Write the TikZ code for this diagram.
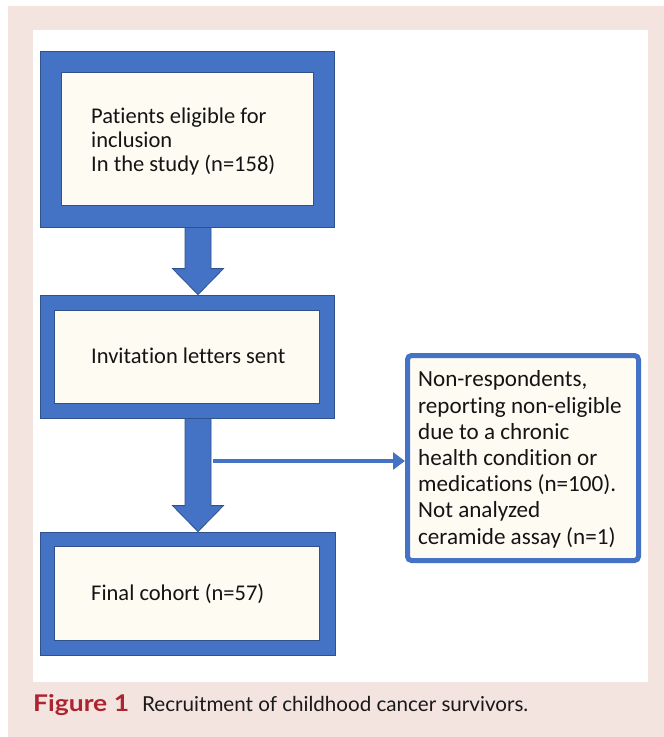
\documentclass[tikz,border=0pt]{standalone}
\usepackage{fontspec}
\setmainfont{Carlito}[Ligatures=NoCommon]
\newfontfamily\capfont{Lato}
\newfontfamily\capfontwide{Lato}[FakeStretch=1.15]
\usetikzlibrary{calc,arrows.meta}
\definecolor{myblue}{HTML}{4472C4}
\definecolor{blueedge}{HTML}{2F528F}
\definecolor{cream}{HTML}{FEFBF3}
\definecolor{pinkbg}{HTML}{F4E4DF}
\definecolor{capred}{HTML}{AC2430}
\tikzset{
  outerbox/.style={rectangle, fill=myblue, draw=blueedge, line width=0.8pt, inner sep=0pt},
  innerbox/.style={fill=cream, draw=blueedge, line width=0.8pt},
  sidebox/.style={rectangle, rounded corners=4pt, fill=cream, draw=myblue, line width=5pt, inner sep=0pt},
  txt/.style={inner sep=0pt, align=left, font=\fontsize{22.5}{24}\selectfont, text=black!92},
  sidetxt/.style={inner sep=0pt, align=left, font=\fontsize{23.1}{26.2}\selectfont, text=black!92},
  blkarr/.style={fill=myblue, draw=blueedge, line width=0.8pt, line join=miter},
  hline/.style={draw=myblue, line width=4.5pt, -{Triangle[length=12pt,width=17pt]}},
}
\newcommand\blkarrow[2]{%
  \draw[blkarr] let \p1=(#1), \p2=(#2) in
    (\x1-13pt,\y1) -- (\x1+13pt,\y1) -- (\x1+13pt,\y2+26pt) -- (\x1+25.5pt,\y2+26pt)
    -- (\x1,\y2) -- (\x1-25.5pt,\y2+26pt) -- (\x1-13pt,\y2+26pt) -- cycle;}
\begin{document}
\begin{tikzpicture}[x=1pt,y=-1pt]
\useasboundingbox (0,0) rectangle (664,737);
% background
\fill[white] (0,0) rectangle (664,737);
\fill[pinkbg] (8,6) rectangle (664,737);
\fill[white] (33,30) rectangle (648,682);

% outer boxes (nodes)
\node[outerbox, minimum width=294pt, minimum height=176pt] (b1) at (187,139) {};
\node[outerbox, minimum width=294pt, minimum height=123pt] (b2) at (187,356.5) {};
\node[outerbox, minimum width=295pt, minimum height=123pt] (b4) at (187.5,593.5) {};
\node[sidebox, minimum width=231pt, minimum height=205pt] (b3) at (523,458) {};

% block arrows
\blkarrow{$(b1.south)+(11,0)$}{$(b2.north)+(11,0)$}
\blkarrow{$(b2.south)+(11,0)$}{$(b4.north)+(10.5,0)$}

% inner cream panels
\draw[innerbox] ($(b1.north west)+(22,22)$) rectangle ($(b1.south east)+(-21,-22)$);
\draw[innerbox] ($(b2.north west)+(15,16)$) rectangle ($(b2.south east)+(-15,-15)$);
\draw[innerbox] ($(b4.north west)+(15,15)$) rectangle ($(b4.south east)+(-16,-15)$);

% texts (base anchor = baseline of last line)
\node[txt, anchor=base west] (t1) at (91,171) {Patients eligible for\\inclusion\\In the study (n=158)};
\node[txt, anchor=base west] (t2) at (91,363) {Invitation letters sent};
\node[txt, anchor=base west] (t4) at (91,600) {Final cohort (n=57)};
\node[sidetxt, anchor=base west] (t3) at (418,544) {Non-respondents,\\reporting non-eligible\\due to a chronic\\health condition or\\medications (n=100).\\Not analyzed\\ceramide assay (n=1)};

% side connector
\coordinate (hstart) at (213,461);
\draw[hline] (hstart) -- (b3.west |- hstart);

% caption
\node[inner sep=0pt, anchor=base west, font=\capfontwide\bfseries\fontsize{23}{25}\selectfont, text=capred] (figlab) at (33,711) {Figure 1};
\node[inner sep=0pt, anchor=base west, font=\capfont\fontsize{20.6}{24}\selectfont, text=black!90] (figtxt) at (142,711) {Recruitment of childhood cancer survivors.};
\end{tikzpicture}
\end{document}
